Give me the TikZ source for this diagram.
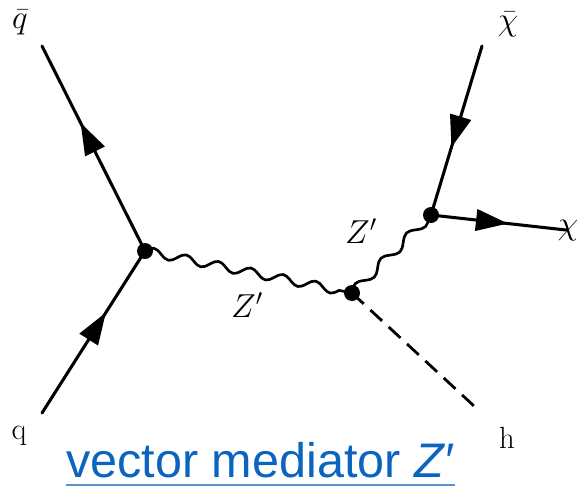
\documentclass[tikz,border=0pt]{standalone}
\usepackage{fontspec}
\newfontfamily\titlefont{Liberation Sans}
\usetikzlibrary{arrows.meta,decorations,decorations.markings}
\definecolor{titleblue}{HTML}{0B64C0}
\definecolor{rulecol}{HTML}{5B93CF}
\pgfdeclaredecoration{sinewave}{up}{
  \state{up}[width=0.5*\pgfdecorationsegmentlength,next state=down,
             switch if less than=0.5*\pgfdecorationsegmentlength to final]{
    \pgfpathcurveto
      {\pgfqpoint{0.2122\pgfdecorationsegmentlength}{1.3333\pgfdecorationsegmentamplitude}}
      {\pgfqpoint{0.2878\pgfdecorationsegmentlength}{1.3333\pgfdecorationsegmentamplitude}}
      {\pgfqpoint{0.5\pgfdecorationsegmentlength}{0pt}}
  }
  \state{down}[width=0.5*\pgfdecorationsegmentlength,next state=up,
             switch if less than=0.5*\pgfdecorationsegmentlength to final]{
    \pgfpathcurveto
      {\pgfqpoint{0.2122\pgfdecorationsegmentlength}{-1.3333\pgfdecorationsegmentamplitude}}
      {\pgfqpoint{0.2878\pgfdecorationsegmentlength}{-1.3333\pgfdecorationsegmentamplitude}}
      {\pgfqpoint{0.5\pgfdecorationsegmentlength}{0pt}}
  }
  \state{final}{\pgfpathlineto{\pgfpointdecoratedpathlast}}
}
\tikzset{
  x=0.75pt,y=-0.75pt,
  vertex/.style={circle,fill=black,inner sep=0pt,minimum size=12pt},
  fermion/.style={line width=2.3pt,line cap=round},
  midtip/.style={postaction={decorate,decoration={markings,
    mark=at position #1 with {\arrow{Triangle[length=24pt,width=16pt]}}}}},
  wavy/.style={line width=2pt,decorate,decoration={sinewave,amplitude=3.3pt,segment length=24.75pt}},
  scalar/.style={line width=2.1pt,dash pattern=on 12pt off 6.75pt},
  lab/.style={font=\fontsize{23}{27}\selectfont,inner sep=0pt},
}
\begin{document}
\begin{tikzpicture}
\useasboundingbox (0,0) rectangle (578,486);
\fill[white] (0,0) rectangle (578,486);
\coordinate (qin) at (42,413);
\coordinate (qbarend) at (42,46);
\coordinate (chibarend) at (482,46);
\coordinate (chiend) at (566,230);
\coordinate (hend) at (474,406);
\node[vertex] (v1) at (145,251) {};
\node[vertex] (v2) at (352,293) {};
\node[vertex] (v3) at (431,215) {};
\draw[fermion,midtip=0.62] (qin) -- (v1.center);
\draw[fermion,midtip=0.625] (v1.center) -- (qbarend);
\draw[fermion,midtip=0.6] (chibarend) -- (v3.center);
\draw[fermion,midtip=0.57] (v3.center) -- (chiend);
\draw[wavy] (v1.center) -- (v2.center);
\draw[wavy,decoration={segment length=27pt}] (v2.center) -- (v3.center);
\draw[scalar] (v2.center) -- (hend);
\node[lab] (lqbar) at (20,22) {$\bar q$};
\node[lab] (lchibar) at (508,24) {$\bar\chi$};
\node[lab] (lchi) at (568,231) {$\chi$};
\node[lab] (lq) at (19,436) {q};
\node[lab] (lh) at (507,438) {h};
\node[lab] (lz1) at (247,305) {$Z'$};
\node[lab] (lz2) at (361,231) {$Z'$};
\node[inner sep=0pt,anchor=base west,text=titleblue,font=\titlefont\fontsize{36.4}{40}\selectfont] (title) at (66,477.5) {vector mediator \textit{Z′}};
\coordinate (ruleL) at (66,485);
\coordinate (ruleR) at (455,485);
\draw[rulecol,line width=0.8pt] (ruleL) -- (ruleR);
\end{tikzpicture}
\end{document}
